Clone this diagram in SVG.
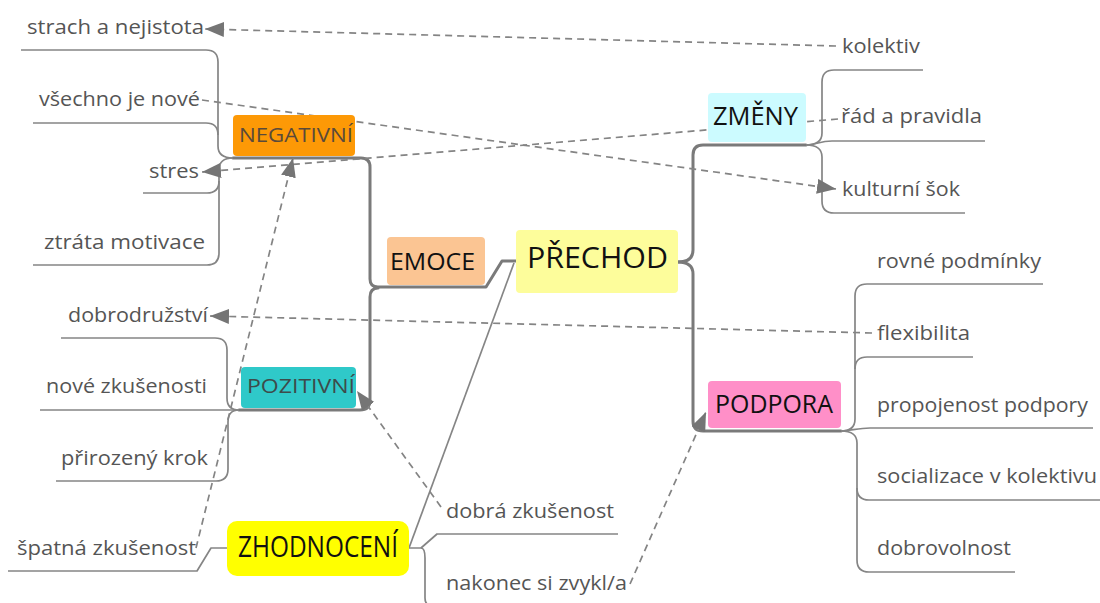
<svg xmlns="http://www.w3.org/2000/svg" width="1100" height="603" viewBox="0 0 1100 603">
<defs>
<marker id="arr" markerUnits="userSpaceOnUse" markerWidth="19" markerHeight="15" refX="19" refY="7.5" orient="auto">
<path d="M0,0 L19,7.5 L0,15 z" fill="#757575"/>
</marker>
<style>
.main{fill:none;stroke:#7a7a7a;stroke-width:3;stroke-linejoin:round;stroke-linecap:round}
.sub{fill:none;stroke:#858585;stroke-width:1.7;stroke-linejoin:round}
.dash{fill:none;stroke:#848484;stroke-width:1.7;stroke-dasharray:7 5;marker-end:url(#arr)}
.lbl{font-family:"Open Sans","Liberation Sans",sans-serif;font-size:20.5px;fill:#555}
.nl{font-family:"Open Sans","Liberation Sans",sans-serif;fill:#111}
</style>
</defs>
<rect width="1100" height="603" fill="#fff"/>
<g id="connectors">
<path class="main" d="M678,262 Q693,262 693,250 V155 Q693,145 703,145 H806"/>
<path class="main" d="M678,262 Q693,262 693,274 V421 Q693,431 703,431 H841"/>
<path class="main" d="M516,261 H502 L486,287 H378 Q370,287 370,279 V167 Q370,158 361,158 H233"/>
<path class="main" d="M378,288 Q370,288 370,297 V400 Q370,410 360,410 H239"/>
<path class="sub" d="M514,263 L409,548"/>
<path class="sub" d="M233,158 Q218,158 218,146 V62 Q218,50 206,50 H21"/>
<path class="sub" d="M33,123 H206 Q218,123 218,135"/>
<path class="sub" d="M233,158 Q219,158 219,170 V253 Q219,265 207,265 H33"/>
<path class="sub" d="M219,181 Q219,193 207,193 H143"/>
<path class="sub" d="M40,410 H239"/>
<path class="sub" d="M61,338 H215 Q227,338 227,350 V398 Q227,410 239,410"/>
<path class="sub" d="M239,410 Q228,410 228,422 V469 Q228,481 216,481 H56"/>
<path class="sub" d="M227,548 H211 L197,571 H8"/>
<path class="sub" d="M409,548 H421 L437,534 H618"/>
<path class="sub" d="M421,548 Q425,548 425,558 V598 Q425,606 433,606 H630"/>
<path class="sub" d="M806,145 Q822,145 822,133 V82 Q822,70 834,70 H923"/>
<path class="sub" d="M806,145 C815,145 820,141 832,141 H985"/>
<path class="sub" d="M806,145 Q822,145 822,157 V201 Q822,213 834,213 H965"/>
<path class="sub" d="M841,431 Q855,431 855,419 V296 Q855,284 867,284 H1043"/>
<path class="sub" d="M855,369 Q855,357 867,357 H973"/>
<path class="sub" d="M841,431 C850,431 858,428 870,428 H1093"/>
<path class="sub" d="M841,431 Q857,431 857,443 V560 Q857,572 869,572 H1015"/>
<path class="sub" d="M857,488 Q857,500 869,500 H1100"/>
<path class="dash" d="M836,46 L205,29"/>
<path class="dash" d="M202,100 L836,189"/>
<path class="dash" d="M838,119 L202,172"/>
<path class="dash" d="M872,333 L210,316"/>
<path class="dash" d="M196,548 L293,158"/>
<path class="dash" d="M441,507 L357,391"/>
<path class="dash" d="M630,584 L706,412"/>
</g>
<g id="node-prechod">
<rect x="516" y="230" width="162" height="63" rx="4" fill="#fdfd9b"/>
<text class="nl" x="527" y="268" font-size="30" textLength="141" lengthAdjust="spacingAndGlyphs">PŘECHOD</text>
</g>
<g id="node-emoce">
<rect x="387" y="237" width="98" height="48" rx="4" fill="#fbc593"/>
<text class="nl" x="390" y="270" font-size="24" fill="#222" textLength="85" lengthAdjust="spacingAndGlyphs">EMOCE</text>
</g>
<g id="node-negativni">
<rect x="233" y="115" width="122" height="41" rx="4" fill="#fd9906"/>
<text class="nl" x="239" y="142" font-size="19.5" style="fill:#5a4a3a" textLength="114" lengthAdjust="spacingAndGlyphs">NEGATIVNÍ</text>
</g>
<g id="node-pozitivni">
<rect x="241" y="367" width="115" height="41" rx="4" fill="#2fc9c9"/>
<text class="nl" x="247" y="393" font-size="20" style="fill:#3d4b4b" textLength="108" lengthAdjust="spacingAndGlyphs">POZITIVNÍ</text>
</g>
<g id="node-zmeny">
<rect x="708" y="93" width="98" height="49" rx="4" fill="#ccfbff"/>
<text class="nl" x="713" y="125" font-size="25" textLength="85" lengthAdjust="spacingAndGlyphs">ZMĚNY</text>
</g>
<g id="node-podpora">
<rect x="708" y="381" width="133" height="47" rx="4" fill="#ff8fc8"/>
<text class="nl" x="715" y="413" font-size="25" textLength="118" lengthAdjust="spacingAndGlyphs">PODPORA</text>
</g>
<g id="node-zhodnoceni">
<rect x="227" y="521" width="182" height="55" rx="10" fill="#ffff00"/>
<text class="nl" x="238" y="557" font-size="29" textLength="160" lengthAdjust="spacingAndGlyphs">ZHODNOCENÍ</text>
</g>
<g id="node-strach"><text class="lbl" x="27" y="34" textLength="177" lengthAdjust="spacingAndGlyphs">strach a nejistota</text></g>
<g id="node-vsechno"><text class="lbl" x="39" y="106" textLength="161" lengthAdjust="spacingAndGlyphs">všechno je nové</text></g>
<g id="node-stres"><text class="lbl" x="149" y="178" textLength="50" lengthAdjust="spacingAndGlyphs">stres</text></g>
<g id="node-ztrata"><text class="lbl" x="44" y="249" textLength="161" lengthAdjust="spacingAndGlyphs">ztráta motivace</text></g>
<g id="node-dobrodruzstvi"><text class="lbl" x="68" y="322" textLength="140" lengthAdjust="spacingAndGlyphs">dobrodružství</text></g>
<g id="node-nove"><text class="lbl" x="46" y="393" textLength="161" lengthAdjust="spacingAndGlyphs">nové zkušenosti</text></g>
<g id="node-prirozeny"><text class="lbl" x="61" y="465" textLength="147" lengthAdjust="spacingAndGlyphs">přirozený krok</text></g>
<g id="node-spatna"><text class="lbl" x="17" y="555" textLength="179" lengthAdjust="spacingAndGlyphs">špatná zkušenost</text></g>
<g id="node-kolektiv"><text class="lbl" x="842" y="53" textLength="78" lengthAdjust="spacingAndGlyphs">kolektiv</text></g>
<g id="node-rad"><text class="lbl" x="841" y="123" textLength="141" lengthAdjust="spacingAndGlyphs">řád a pravidla</text></g>
<g id="node-kulturni"><text class="lbl" x="842" y="196" textLength="118" lengthAdjust="spacingAndGlyphs">kulturní šok</text></g>
<g id="node-rovne"><text class="lbl" x="877" y="268" textLength="164" lengthAdjust="spacingAndGlyphs">rovné podmínky</text></g>
<g id="node-flexibilita"><text class="lbl" x="877" y="340" textLength="93" lengthAdjust="spacingAndGlyphs">flexibilita</text></g>
<g id="node-propojenost"><text class="lbl" x="877" y="412" textLength="211" lengthAdjust="spacingAndGlyphs">propojenost podpory</text></g>
<g id="node-socializace"><text class="lbl" x="877" y="483" textLength="220" lengthAdjust="spacingAndGlyphs">socializace v kolektivu</text></g>
<g id="node-dobrovolnost"><text class="lbl" x="877" y="555" textLength="134" lengthAdjust="spacingAndGlyphs">dobrovolnost</text></g>
<g id="node-dobra"><text class="lbl" x="446" y="518" textLength="168" lengthAdjust="spacingAndGlyphs">dobrá zkušenost</text></g>
<g id="node-nakonec"><text class="lbl" x="446" y="590" textLength="181" lengthAdjust="spacingAndGlyphs">nakonec si zvykl/a</text></g>
</svg>
